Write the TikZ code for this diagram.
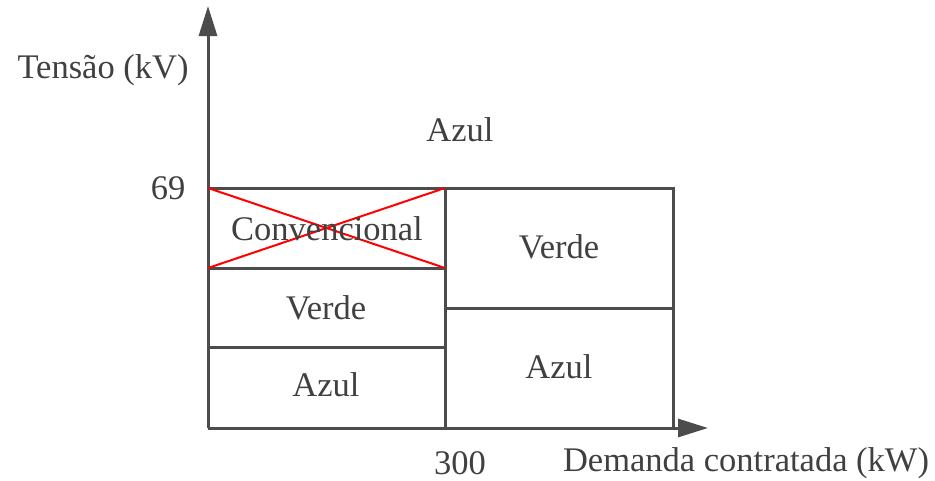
\documentclass[tikz,border=0pt]{standalone}
\usepackage{fontspec}
\setmainfont{Liberation Serif}
\usetikzlibrary{arrows.meta}
\begin{document}
\begin{tikzpicture}[x=1pt,y=-1pt,
  frame/.style={line width=3pt,draw=black!70},
  axis/.style={line width=3pt,draw=black!70,-{Triangle[length=30pt,width=18pt]}},
  cross/.style={line width=2pt,draw=red},
  lbl/.style={font=\fontsize{34.5}{40}\selectfont,text=black!75,inner sep=0pt}]
\useasboundingbox (0,0) rectangle (935,480);
% corners
\coordinate (O) at (208,428);
\coordinate (Ytip) at (208,6);
\coordinate (Xtip) at (708,428);
\coordinate (TL) at (208,188);
\coordinate (TM) at (445,188);
\coordinate (TR) at (673,188);
\coordinate (BM) at (445,428);
\coordinate (BR) at (673,428);
\coordinate (L1) at (208,268);
\coordinate (M1) at (445,268);
\coordinate (L2) at (208,347);
\coordinate (M2) at (445,347);
\coordinate (M3) at (445,308);
\coordinate (R3) at (673,308);
% frame
\draw[frame] (TL) -- (TR) -- (BR);
\draw[frame] (TM) -- (BM);
\draw[frame] (L1) -- (M1);
\draw[frame] (L2) -- (M2);
\draw[frame] (M3) -- (R3);
% axes
\draw[axis] (O) -- (Ytip);
\draw[axis] (O) -- (Xtip);
% red cross
\draw[cross] (TL) -- (M1);
\draw[cross] (L1) -- (TM);
% labels
\node[lbl] (ylab) at (103,70) {Tensão (kV)};
\node[lbl] (v69) at (168,188) {69};
\node[lbl] (azulTop) at (460,130) {Azul};
\node[lbl] (conv) at (327,229) {Convencional};
\node[lbl] (verdeL) at (326,308) {Verde};
\node[lbl] (azulL) at (326,385) {Azul};
\node[lbl] (verdeR) at (559,247) {Verde};
\node[lbl] (azulR) at (559,367) {Azul};
\node[lbl] (v300) at (460,463) {300};
\node[lbl] (xlab) at (746,463) {Demanda contratada (kW)};
\end{tikzpicture}
\end{document}
